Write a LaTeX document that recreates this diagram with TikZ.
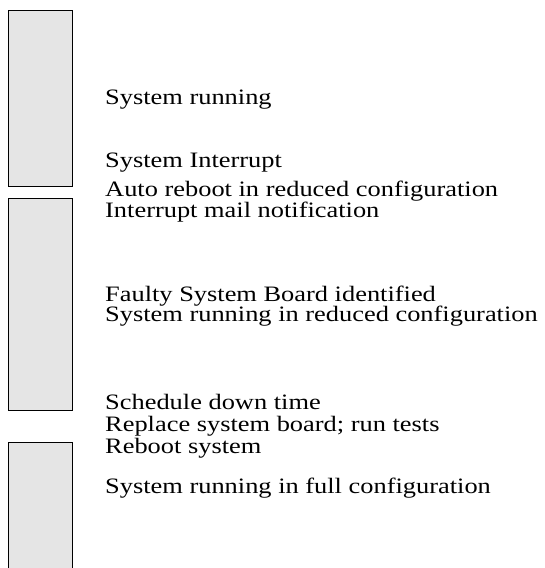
\documentclass[tikz,border=0pt]{standalone}
\usepackage{fontspec}
\setmainfont{Liberation Serif}[FakeStretch=1.2]
\begin{document}
\begin{tikzpicture}[x=1pt,y=1pt,
  bar/.style={draw=black, line width=1pt, fill=gray!20, inner sep=0pt, minimum width=64pt},
  lbl/.style={anchor=base west, inner sep=0pt, font=\fontsize{22}{22}\selectfont}]
\useasboundingbox (0,0) rectangle (544,-568);
\clip (0,0) rectangle (544,-568);
\node[bar, minimum height=176pt] (b1) at (40,-98) {};
\node[bar, minimum height=212pt] (b2) at (40,-304) {};
\node[bar, minimum height=140pt] (b3) at (40,-512) {};
\node[lbl] (t1) at (105,-104) {System running};
\node[lbl] (t2) at (105,-167) {System Interrupt};
\node[lbl] (t3) at (105,-196) {Auto reboot in reduced configuration};
\node[lbl] (t4) at (105,-217) {Interrupt mail notification};
\node[lbl] (t5) at (105,-301) {Faulty System Board identified};
\node[lbl] (t6) at (105,-321) {System running in reduced configuration};
\node[lbl] (t7) at (105,-409) {Schedule down time};
\node[lbl] (t8) at (105,-431) {Replace system board; run tests};
\node[lbl] (t9) at (105,-453) {Reboot system};
\node[lbl] (t10) at (105,-493) {System running in full configuration};
\end{tikzpicture}
\end{document}
